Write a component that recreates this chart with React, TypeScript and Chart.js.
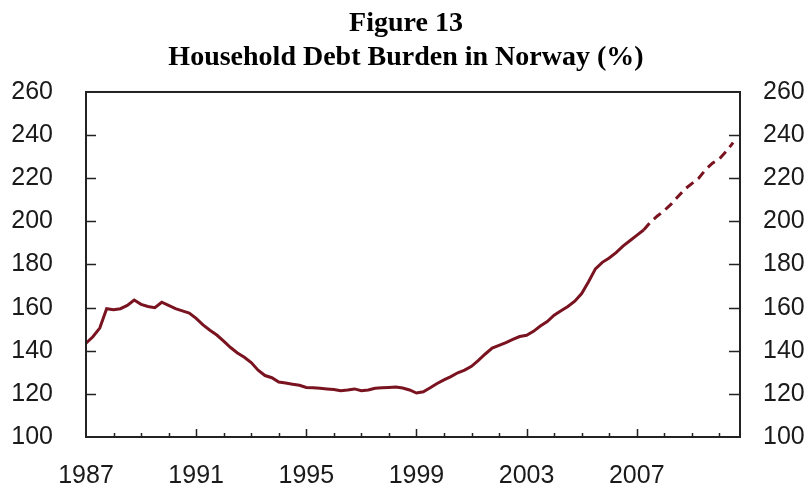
import React, { useEffect, useRef } from "react";
import { Chart, registerables } from "chart.js";

Chart.register(...registerables);

// Quarterly household debt burden (%), 1987Q1 .. 2010Q3
const startYear = 1987;
const debtBurden: number[] = [
  143.5, 146.5, 150.5, 159.5, // 1987
  159, 159.5, 161, 163.5, // 1988
  161.5, 160.5, 160, 162.5, // 1989
  161, 159.5, 158.5, 157.5, // 1990
  155, 152, 149.5, 147.3, // 1991
  144.5, 141.5, 139, 137, // 1992
  134.5, 131, 128.5, 127.5, // 1993
  125.5, 125, 124.5, 124, // 1994
  123, 122.8, 122.6, 122.3, // 1995
  122, 121.5, 121.8, 122.3, // 1996
  121.5, 121.8, 122.6, 122.8, // 1997
  123, 123.2, 122.7, 121.8, // 1998
  120.4, 121, 122.8, 124.8, // 1999
  126.5, 128, 129.8, 131, // 2000
  132.8, 135.5, 138.5, 141.2, // 2001
  142.5, 143.8, 145.3, 146.6, // 2002
  147.2, 149, 151.5, 153.5, // 2003
  156.5, 158.5, 160.5, 163, // 2004
  166.5, 172, 178, 181, // 2005
  183, 185.5, 188.5, 191, // 2006
  193.5, 196, 199.7, 202.5, // 2007
  205, 208, 211.5, 215, // 2008
  217.5, 220, 224, 227, // 2009
  229, 232.5, 236.5, // 2010
];
const dashFromIndex = 81; // 2007Q2 onward drawn dashed

const yTicks: number[] = [100, 120, 140, 160, 180, 200, 220, 240, 260];
const xLabelYears: number[] = [1987, 1991, 1995, 1999, 2003, 2007];
const xMin = 1987;
const xMax = 2010.75;

const titleLines: string[] = ["Figure 13", "Household Debt Burden in Norway (%)"];

const LINE_COLOR = "#7a1320";
const AXIS_COLOR = "#222222";
const LABEL_FONT = '"Liberation Sans", Arial, sans-serif';

const framePlugin = {
  id: "frameTicks",
  afterDraw(chart: any) {
    const { ctx, chartArea } = chart;
    const { left, right, top, bottom } = chartArea;
    const xs = chart.scales.x;
    const ys = chart.scales.y;
    ctx.save();
    ctx.strokeStyle = AXIS_COLOR;
    ctx.lineWidth = 2;
    ctx.strokeRect(left, top, right - left, bottom - top);
    ctx.lineWidth = 1.5;
    ctx.beginPath();
    for (const v of yTicks) {
      if (v === yTicks[0] || v === yTicks[yTicks.length - 1]) continue;
      const py = Math.round(ys.getPixelForValue(v)) + 0.5;
      ctx.moveTo(left, py);
      ctx.lineTo(left + 10, py);
      ctx.moveTo(right, py);
      ctx.lineTo(right - 11, py);
    }
    for (let yr = xMin + 1; yr <= Math.floor(xMax); yr++) {
      const px = Math.round(xs.getPixelForValue(yr)) + 0.5;
      const major = (yr - xMin) % 4 === 0;
      ctx.moveTo(px, bottom);
      ctx.lineTo(px, bottom - (major ? 8 : 4));
    }
    ctx.stroke();
    ctx.restore();
  },
};

export default function App() {
  const ref = useRef<HTMLCanvasElement | null>(null);

  useEffect(() => {
    if (!ref.current) return;
    const points = debtBurden.map((v, i) => ({ x: startYear + i * 0.25, y: v }));
    const chart = new Chart(ref.current, {
      type: "line",
      data: {
        datasets: [
          {
            data: points,
            borderColor: LINE_COLOR,
            borderWidth: 3,
            pointRadius: 0,
            tension: 0,
            fill: false,
            segment: {
              borderDash: (c: any) => (c.p0DataIndex >= dashFromIndex ? [9, 6] : undefined),
            },
          },
        ],
      },
      options: {
        animation: false,
        responsive: false,
        layout: { padding: 0 },
        plugins: {
          legend: { display: false },
          tooltip: { enabled: false },
          title: {
            display: true,
            text: titleLines,
            color: "#000",
            font: {
              family: '"Liberation Serif", "Times New Roman", serif',
              size: 28,
              weight: "bold",
              lineHeight: 1.214,
            },
            padding: { top: 6.5, bottom: 17.5 },
          },
        },
        scales: {
          x: {
            type: "linear",
            min: xMin,
            max: xMax,
            grid: { display: false, drawTicks: false },
            border: { display: false },
            afterFit: (s: any) => {
              s.height = 54;
            },
            ticks: {
              stepSize: 1,
              autoSkip: false,
              maxRotation: 0,
              minRotation: 0,
              padding: 24,
              color: "#1a1a1a",
              font: { family: LABEL_FONT, size: 25 },
              callback: (v: any) => (xLabelYears.includes(Number(v)) ? String(v) : ""),
            },
          },
          y: {
            position: "left",
            min: 100,
            max: 260,
            grid: { display: false, drawTicks: false },
            border: { display: false },
            afterFit: (s: any) => {
              s.width = 86;
            },
            ticks: {
              stepSize: 20,
              padding: 33,
              color: "#1a1a1a",
              font: { family: LABEL_FONT, size: 25 },
            },
          },
          y2: {
            position: "right",
            min: 100,
            max: 260,
            grid: { display: false, drawTicks: false },
            border: { display: false },
            afterFit: (s: any) => {
              s.width = 72;
            },
            ticks: {
              stepSize: 20,
              padding: 23,
              color: "#1a1a1a",
              font: { family: LABEL_FONT, size: 25 },
            },
          },
        },
      },
      plugins: [framePlugin],
    } as any);
    return () => chart.destroy();
  }, []);

  return (
    <div style={{ position: "fixed", left: 0, top: 0, width: 812, height: 491, background: "#fff" }}>
      <canvas ref={ref} width={812} height={491} style={{ display: "block" }} />
    </div>
  );
}
